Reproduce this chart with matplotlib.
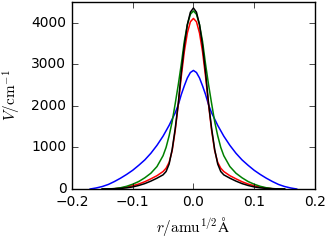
import numpy as np
import matplotlib
matplotlib.use('Agg')
import matplotlib.pyplot as plt

plt.style.use('classic')

# half-curves (symmetric about r=0)
r_narrow = [0, 0.005, 0.01, 0.015, 0.02, 0.025, 0.03, 0.035, 0.04, 0.045, 0.05,
            0.06, 0.07, 0.08, 0.09, 0.10, 0.11, 0.12, 0.13, 0.14, 0.15]
V_black = [4350, 4250, 3950, 3450, 2800, 2050, 1450, 950, 600, 420, 340,
           260, 190, 130, 85, 50, 28, 14, 6, 2, 0]
V_green = [4280, 4200, 3950, 3550, 3000, 2500, 2050, 1620, 1280, 1000, 800,
           540, 380, 270, 180, 115, 65, 30, 10, 2, 0]
V_red = [4100, 4020, 3750, 3300, 2700, 2020, 1400, 920, 640, 500, 420,
         320, 245, 175, 120, 78, 45, 22, 8, 2, 0]

r_blue = [0, 0.005, 0.01, 0.015, 0.02, 0.025, 0.03, 0.04, 0.05, 0.06, 0.07,
          0.08, 0.09, 0.10, 0.11, 0.12, 0.13, 0.14, 0.15, 0.16, 0.17]
V_blue = [2850, 2800, 2670, 2480, 2270, 2020, 1830, 1530, 1270, 1050, 860,
          700, 570, 450, 350, 260, 180, 110, 60, 25, 0]


def mirror(r, v):
    r = np.asarray(r)
    v = np.asarray(v)
    return np.concatenate([-r[:0:-1], r]), np.concatenate([v[:0:-1], v])


fig = plt.figure(figsize=(3.27, 2.4), dpi=100)
ax = fig.add_axes([0.22, 0.2125, 0.743, 0.78])

x, y = mirror(r_blue, V_blue)
ax.plot(x, y, color='b', lw=1.1)
x, y = mirror(r_narrow, V_red)
ax.plot(x, y, color='r', lw=1.1)
x, y = mirror(r_narrow, V_green)
ax.plot(x, y, color='g', lw=1.1)
x, y = mirror(r_narrow, V_black)
ax.plot(x, y, color='k', lw=1.1)

ax.set_xlim(-0.2, 0.2)
ax.set_ylim(0, 4500)
ax.set_xticks([-0.2, -0.1, 0.0, 0.1, 0.2])
ax.set_yticks([0, 1000, 2000, 3000, 4000])
ax.tick_params(labelsize=10)
ax.set_xlabel(r'$r/\mathrm{amu}^{1/2}\mathrm{\AA}$', fontsize=11)
ax.set_ylabel(r'$V/\mathrm{cm}^{-1}$', fontsize=11, labelpad=6)

fig.savefig('out.png', dpi=100)
